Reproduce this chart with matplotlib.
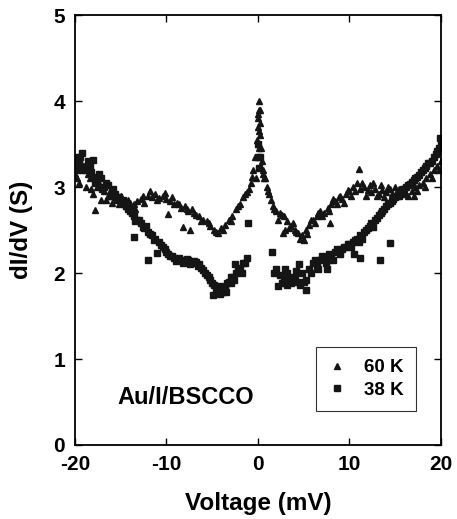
import matplotlib
matplotlib.use("Agg")
import matplotlib.pyplot as plt

plt.rcParams['font.family'] = ['Liberation Sans', 'DejaVu Sans']
plt.rcParams['font.weight'] = 'bold'
plt.rcParams['axes.unicode_minus'] = False

# 60 K (triangles)
v60 = [-20.0, -19.6, -19.2, -18.8, -18.4, -18.0, -17.6, -17.2, -16.8, -16.4,
       -16.0, -15.6, -15.2, -14.8, -14.4, -14.0, -13.6, -13.2, -12.8, -12.4,
       -12.0, -11.6, -11.2, -10.8, -10.4, -10.0, -9.6, -9.2, -8.8, -8.4,
       -8.0, -7.6, -7.2, -6.8, -6.4, -6.0, -5.6, -5.2, -4.8, -4.4,
       -4.0, -3.6, -3.2, -2.8, -2.4, -2.0, -1.6, -1.2, -0.8, -0.5,
       -0.3, -0.1, 0.0, 0.05, 0.1, 0.15, 0.2, 0.25, 0.3, 0.4,
       0.6, 0.8, 1.0, 1.2, 1.4, 1.6, 2.0, 2.4, 2.8, 3.2,
       3.6, 4.0, 4.4, 4.8, 5.2, 5.6, 6.0, 6.4, 6.8, 7.2,
       7.6, 8.0, 8.4, 8.8, 9.2, 9.6, 10.0, 10.4, 10.8, 11.2,
       11.6, 12.0, 12.4, 12.8, 13.2, 13.6, 14.0, 14.4, 14.8, 15.2,
       15.6, 16.0, 16.4, 16.8, 17.2, 17.6, 18.0, 18.4, 18.8, 19.2,
       19.6, 20.0,
       -17.8, -9.8, -8.2, -7.4, -19.4, -18.6, -16.2, 2.7, 3.0, 4.6, 5.0, 7.9, 11.0,
       0.0, 0.1, 0.2, 0.05, 0.15, -0.2, 0.5, 12.6, 15.0, 17.0,
       -19.8, -19.0, -18.2, -17.4, -16.6, -15.8, -15.0, -14.2, -13.4, -12.6,
       -11.8, -11.0, -10.2, -9.4, -8.6, -7.8, -7.0, -6.2, -5.4, -4.6,
       -3.8, -3.0, -2.2, -1.4, -1.0, -0.6,
       0.7, 1.1, 1.8, 2.2, 2.6, 3.4, 3.8, 4.2, 5.4, 5.8,
       6.2, 6.6, 7.0, 7.8, 8.2, 8.6, 9.0, 9.4, 9.8, 10.2,
       10.6, 11.4, 11.8, 12.2, 13.0, 13.4, 13.8, 14.2, 14.6, 15.4,
       16.2, 17.4, 18.2, 19.0, 19.8]
g60 = [3.15, 3.05, 3.2, 3.0, 3.1, 2.92, 3.0, 2.85, 2.95, 2.9,
       2.82, 2.88, 2.8, 2.85, 2.78, 2.82, 2.8, 2.84, 2.86, 2.82,
       2.9, 2.88, 2.92, 2.87, 2.9, 2.86, 2.84, 2.8, 2.82, 2.76,
       2.78, 2.72, 2.74, 2.68, 2.66, 2.62, 2.6, 2.55, 2.5, 2.46,
       2.52, 2.56, 2.62, 2.66, 2.74, 2.8, 2.88, 2.94, 3.05, 3.2,
       3.35, 3.55, 3.7, 3.85, 4.0, 3.9, 3.75, 3.6, 3.45, 3.3,
       3.2, 3.1, 3.0, 2.92, 2.85, 2.78, 2.72, 2.7, 2.66, 2.6,
       2.55, 2.5, 2.46, 2.44, 2.5, 2.56, 2.62, 2.66, 2.72, 2.7,
       2.76, 2.8, 2.84, 2.88, 2.86, 2.92, 2.95, 3.0, 3.05, 2.98,
       3.0, 2.96, 2.94, 2.98, 2.92, 2.96, 2.94, 2.98, 2.9, 2.95,
       2.92, 2.96, 2.9, 2.95, 3.0, 3.02, 3.05, 3.1, 3.15, 3.2,
       3.25, 3.3,
       2.73, 2.69, 2.53, 2.5, 3.3, 3.15, 2.95, 2.46, 2.5, 2.4, 2.38, 2.58, 3.21,
       3.5, 3.65, 3.9, 3.8, 3.45, 3.1, 3.15, 3.05, 3.0, 2.9,
       3.1, 3.25, 2.98, 3.05, 2.85, 2.95, 2.9, 2.85, 2.75, 2.9,
       2.95, 2.85, 2.93, 2.88, 2.8, 2.74, 2.7, 2.6, 2.58, 2.48,
       2.5, 2.6, 2.78, 2.92, 2.98, 3.12,
       3.1, 2.95, 2.75, 2.62, 2.68, 2.52, 2.58, 2.48, 2.45, 2.62,
       2.58, 2.7, 2.66, 2.72, 2.86, 2.8, 2.9, 2.82, 2.96, 2.9,
       2.95, 3.05, 2.9, 3.02, 2.9, 3.02, 2.88, 3.0, 2.92, 2.98,
       2.92, 2.95, 3.0, 3.1, 3.2]

# 38 K (squares)
v38 = [-20.0, -19.6, -19.2, -18.8, -18.4, -18.0, -17.6, -17.2, -16.8, -16.4,
       -16.0, -15.6, -15.2, -14.8, -14.4, -14.0, -13.6, -13.2, -12.8, -12.4,
       -12.0, -11.6, -11.2, -10.8, -10.4, -10.0, -9.6, -9.2, -8.8, -8.4,
       -8.0, -7.6, -7.2, -6.8, -6.4, -6.0, -5.6, -5.2, -4.8, -4.4,
       -4.0, -3.6, -3.2, -2.8, -2.4, -2.0, -1.6, -1.2,
       -4.9, -4.2, -3.5, -1.1, -13.6, -12.0, -11.0, -18.0, -19.8, -2.5, -3.0,
       0.0, 0.1, 0.2, 0.05,
       1.5, 2.0, 2.4, 2.8, 3.2, 3.6, 4.0, 4.4, 4.8, 5.2,
       5.6, 6.0, 6.4, 6.8, 7.2, 7.6, 8.0, 8.4, 8.8, 9.2,
       9.6, 10.0, 10.4, 10.8, 11.2, 11.6, 12.0, 12.4, 12.8, 13.2,
       13.6, 14.0, 14.4, 14.8, 15.2, 15.6, 16.0, 16.4, 16.8, 17.2,
       17.6, 18.0, 18.4, 18.8, 19.2, 19.6, 20.0,
       19.9, 11.2, 13.3, 14.4, 5.3, 3.0, 2.2, 7.5, 4.5, 10.5, 3.2,
       -19.8, -19.4, -19.0, -18.6, -18.2, -17.8, -17.4, -17.0, -16.6, -16.2,
       -15.8, -15.4, -15.0, -14.6, -14.2, -13.8, -13.4, -13.0, -12.6, -12.2,
       -11.8, -11.4, -10.6, -10.2, -9.8, -9.4, -9.0, -8.6, -8.2, -7.8,
       -7.4, -7.0, -6.6, -6.2, -5.8, -5.4, -5.0, -4.6, -4.2, -3.8,
       -3.4, -3.0, -2.6, -2.2, -1.8, -1.4,
       1.8, 2.6, 3.4, 4.2, 4.6, 5.0, 5.8, 6.2, 6.6, 7.0,
       7.4, 7.8, 8.2, 8.6, 9.0, 9.4, 9.8, 10.2, 10.6, 11.0,
       11.4, 11.8, 12.2, 12.6, 13.0, 13.4, 13.8, 14.2, 14.6, 15.0,
       15.4, 15.8, 16.2, 16.6, 17.0, 17.4, 17.8, 18.2, 18.6, 19.0,
       19.4, 19.8]
g38 = [3.35, 3.3, 3.4, 3.2, 3.25, 3.12, 3.08, 3.1, 3.0, 3.02,
       2.95, 2.92, 2.88, 2.85, 2.78, 2.72, 2.66, 2.62, 2.58, 2.52,
       2.48, 2.44, 2.4, 2.36, 2.3, 2.25, 2.2, 2.18, 2.16, 2.15,
       2.14, 2.15, 2.12, 2.13, 2.1, 2.04, 1.98, 1.92, 1.86, 1.82,
       1.8, 1.84, 1.9, 1.95, 2.0, 2.06, 2.12, 2.18,
       1.74, 1.76, 1.78, 2.58, 2.42, 2.15, 2.23, 3.32, 3.2, 2.1, 1.88,
       3.35, 3.22, 3.35, 3.5,
       2.25, 2.05, 1.98, 1.92, 2.0, 1.88, 1.95, 1.9, 2.0, 1.92,
       2.05, 2.12, 2.08, 2.15, 2.18, 2.15, 2.2, 2.24, 2.26, 2.28,
       2.3, 2.34, 2.36, 2.4, 2.44, 2.48, 2.52, 2.58, 2.62, 2.68,
       2.72, 2.78, 2.82, 2.86, 2.9, 2.95, 2.98, 3.02, 3.06, 3.1,
       3.14, 3.2, 3.25, 3.28, 3.35, 3.42, 3.5,
       3.57, 2.17, 2.15, 2.35, 1.8, 2.05, 1.85, 2.05, 2.1, 2.22, 1.86,
       3.28, 3.35, 3.22, 3.3, 3.18, 3.05, 3.15, 2.98, 3.05, 2.9,
       2.98, 2.85, 2.82, 2.8, 2.75, 2.7, 2.6, 2.62, 2.54, 2.55,
       2.45, 2.38, 2.32, 2.28, 2.22, 2.2, 2.14, 2.17, 2.12, 2.16,
       2.1, 2.14, 2.08, 2.06, 2.0, 1.95, 1.88, 1.8, 1.85, 1.78,
       1.88, 1.95, 1.92, 2.05, 2.0, 2.12,
       2.0, 1.88, 1.95, 2.02, 1.86, 1.9, 2.0, 2.15, 2.05, 2.2,
       2.12, 2.22, 2.15, 2.28, 2.22, 2.3, 2.34, 2.3, 2.38, 2.36,
       2.4, 2.5, 2.55, 2.54, 2.64, 2.7, 2.75, 2.8, 2.84, 2.88,
       2.9, 2.98, 3.0, 3.04, 3.08, 3.12, 3.18, 3.22, 3.28, 3.3,
       3.38, 3.45]

xticks = [-20, -10, 0, 10, 20]
yticks = [0, 1, 2, 3, 4, 5]

fig = plt.figure(figsize=(4.57, 5.19), dpi=100)
ax = fig.add_axes([0.164, 0.1426, 0.801, 0.8284])

ax.plot(v60, g60, linestyle='none', marker='^', markersize=4.0, color='#151515', label='60 K')
ax.plot(v38, g38, linestyle='none', marker='s', markersize=4.5, color='#151515', label='38 K')

ax.set_xlim(-20, 20)
ax.set_ylim(0, 5)
ax.set_xticks(xticks)
ax.set_yticks(yticks)
ax.tick_params(direction='in', length=5, width=1, top=True, right=True,
               labelsize=15)
ax.tick_params(axis='y', pad=7)
ax.tick_params(axis='x', pad=7)
for lab in ax.get_xticklabels() + ax.get_yticklabels():
    lab.set_fontweight('bold')
for s in ax.spines.values():
    s.set_linewidth(1.3)

ax.set_xlabel('Voltage (mV)', fontsize=17.5, fontweight='bold', labelpad=13)
ax.set_ylabel('dI/dV (S)', fontsize=17.5, fontweight='bold', labelpad=15)

ax.text(-15.4, 0.55, 'Au/I/BSCCO', fontsize=17, fontweight='bold', va='center', ha='left')

leg = ax.legend(loc='lower right', bbox_to_anchor=(0.932, 0.079), borderaxespad=0,
                frameon=True, fancybox=False,
                edgecolor='black', prop={'weight': 'bold', 'size': 13.5}, handletextpad=1.0,
                borderpad=0.65, labelspacing=0.3, handlelength=0.9)
leg.get_frame().set_linewidth(0.8)

fig.savefig('out.png', dpi=100)
